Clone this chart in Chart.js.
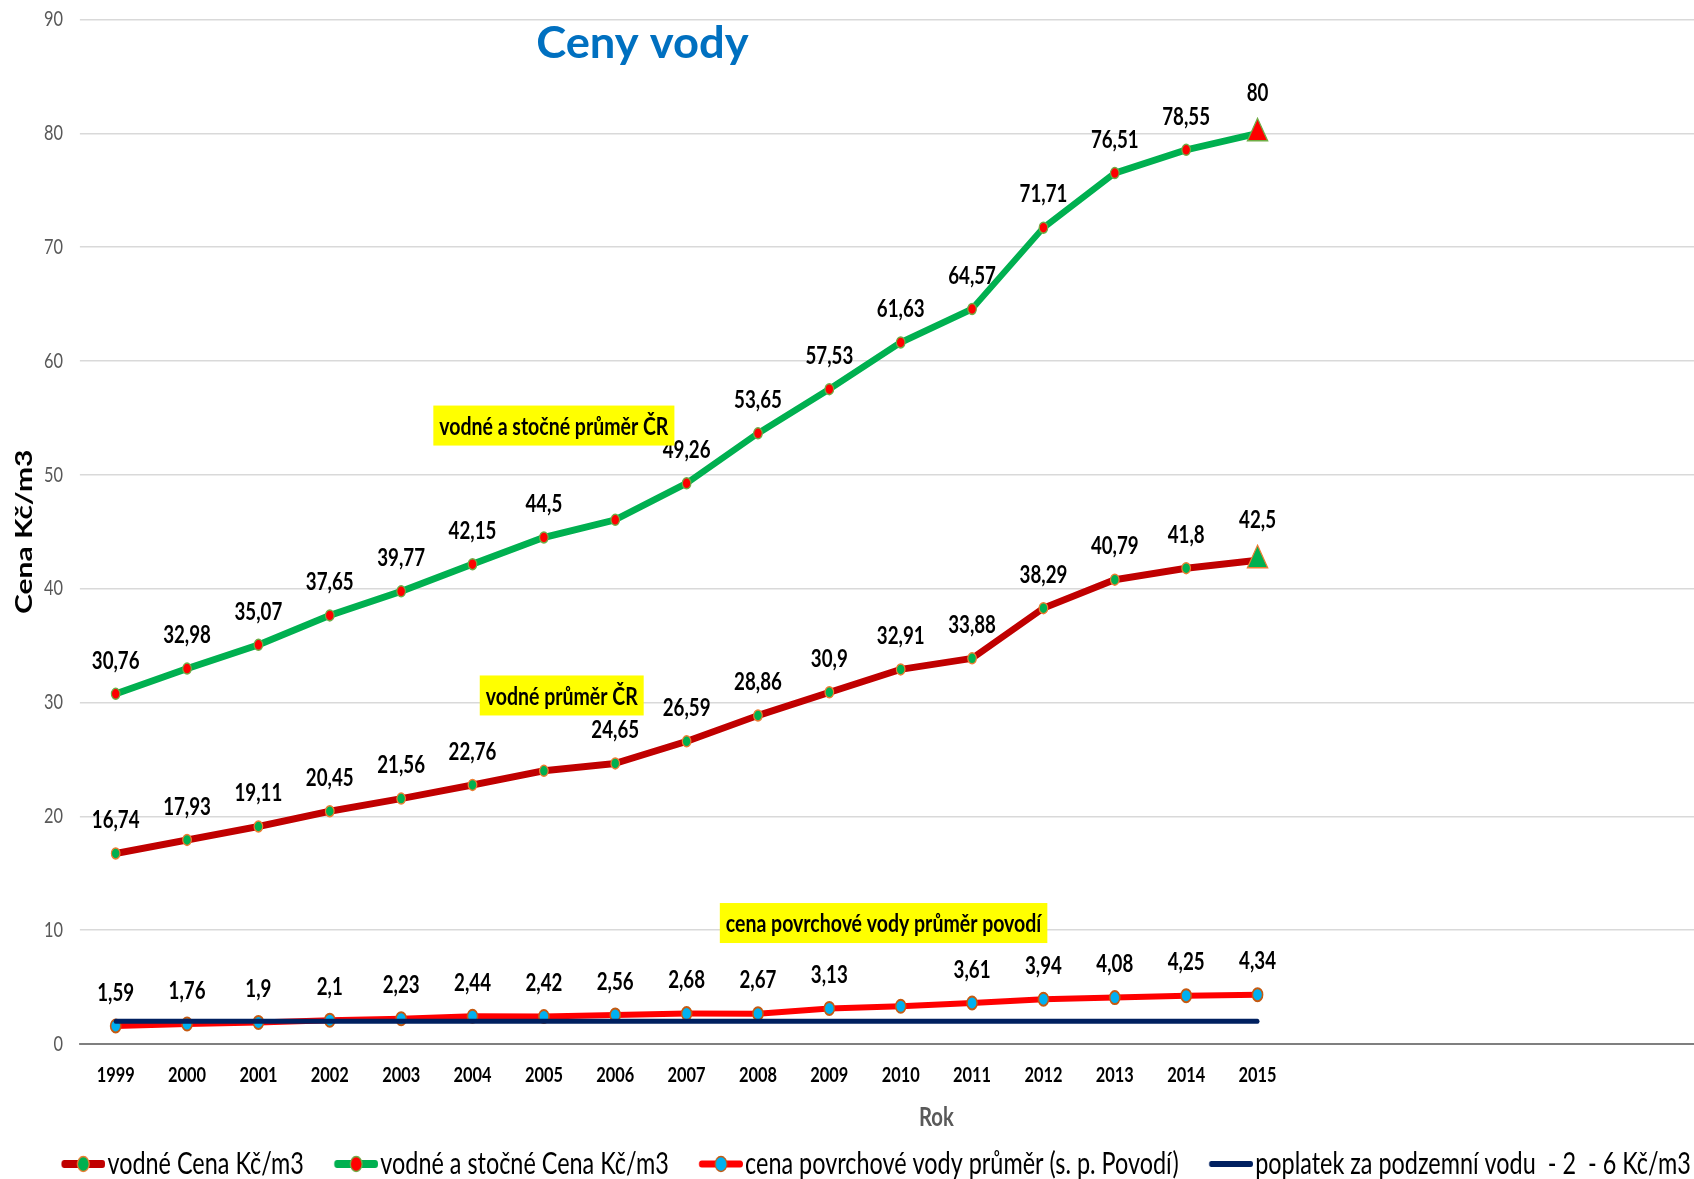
<!DOCTYPE html>
<html>
<head>
<meta charset="utf-8">
<title>Ceny vody</title>
<script src="https://cdn.jsdelivr.net/npm/chart.js@4.4.1/dist/chart.umd.min.js"></script>
<style>
  html, body { margin: 0; padding: 0; background: #fff; overflow: hidden; }
  /* the plot runs on past the right edge, as in the cropped original */
  #wrap { position: absolute; left: -41px; top: 0; }
</style>
</head>
<body>
<div id="wrap"><canvas id="chart"></canvas></div>
<script>
// --- data ---
const years = ['1999', '2000', '2001', '2002', '2003', '2004', '2005', '2006', '2007',
  '2008', '2009', '2010', '2011', '2012', '2013', '2014', '2015'];
const spareSlots = ['', '', '', '', '', '', '']; // empty categories right of 2015

const vodne = [16.74, 17.93, 19.11, 20.45, 21.56, 22.76, 24.0, 24.65, 26.59,
  28.86, 30.9, 32.91, 33.88, 38.29, 40.79, 41.8, 42.5];
const vodneStocne = [30.76, 32.98, 35.07, 37.65, 39.77, 42.15, 44.5, 46.05, 49.26,
  53.65, 57.53, 61.63, 64.57, 71.71, 76.51, 78.55, 80];
const povrchova = [1.59, 1.76, 1.9, 2.1, 2.23, 2.44, 2.42, 2.56, 2.68,
  2.67, 3.13, 3.32, 3.61, 3.94, 4.08, 4.25, 4.34];
const podzemni = [2, 2, 2, 2, 2, 2, 2, 2, 2, 2, 2, 2, 2, 2, 2, 2, 2];

// points whose value is not printed in the original
const vodneNoLabel = [6];
const vodneStocneNoLabel = [7];
const povrchovaNoLabel = [11];

const seriesNames = [
  'vodné Cena Kč/m3',
  'vodné a stočné Cena Kč/m3',
  'cena povrchové vody průměr (s. p. Povodí)',
  'poplatek za podzemní vodu  - 2  - 6 Kč/m3'
];

// yellow call-outs, placed in axis units (category index, value)
const notes = [
  { text: 'vodné a stočné průměr ČR', at: [6.14, 54.33] },
  { text: 'vodné průměr ČR', at: [6.25, 30.62] },
  { text: 'cena povrchové vody průměr povodí', at: [10.76, 10.63] }
];
const heading = { text: 'Ceny vody', at: [7.38, 86.6] };

// --- look ---
const FONT = "Lato, 'Open Sans', sans-serif";
const SQUISH = 0.78;      // the original is a horizontally squeezed Excel chart
const SHIFT = 41;         // canvas sits this far left of the page
const PLOT_LEFT = 80;     // page x of the plot's left edge
const PLOT_RIGHT = 1793;  // page x of the (cut off) right edge
const px = v => v / SQUISH; // page width -> canvas units

const wrap = document.getElementById('wrap');
wrap.style.width = Math.round(px(PLOT_RIGHT + SHIFT)) + 'px';
wrap.style.height = '1189px';

const fmt = v => String(v).replace('.', ',');
const lastIdx = years.length - 1;

// legend swatch: line with marker, kept in the right part of a wider image
const LEGEND_FONT = 30;
const SWATCH = px(44);
const BOX_W = px(46) - LEGEND_FONT / 2 + 0.5;
const IMG_W = Math.round(BOX_W + LEGEND_FONT - px(4));

function makeIcon(line, lw, fill, stroke) {
  const c = document.createElement('canvas');
  c.width = IMG_W;
  c.height = 30;
  const g = c.getContext('2d');
  const x0 = IMG_W - SWATCH;
  g.strokeStyle = line;
  g.lineWidth = lw;
  g.lineCap = 'round';
  g.beginPath();
  g.moveTo(x0 + lw / 2, 15);
  g.lineTo(IMG_W - lw / 2, 15);
  g.stroke();
  if (fill) {
    g.beginPath();
    g.arc(x0 + SWATCH / 2, 15, 7.5, 0, Math.PI * 2);
    g.fillStyle = fill;
    g.fill();
    g.lineWidth = 1.5;
    g.strokeStyle = stroke;
    g.stroke();
  }
  return c;
}

const legendIcons = [
  makeIcon('#C00000', 8, '#00B050', '#ED7D31'),
  makeIcon('#00B050', 8, '#FF0000', '#70AD47'),
  makeIcon('#FF0000', 7, '#00B0F0', '#C55A11'),
  makeIcon('#002060', 6, null, null)
];

// squeeze the whole drawing sideways, then add title and call-outs
const squeeze = {
  id: 'squeeze',
  beforeDraw(chart) {
    chart.ctx.save();
    chart.ctx.setTransform(SQUISH, 0, 0, 1, 0, 0);
  },
  afterDatasetsDraw(chart) {
    const ctx = chart.ctx;
    ctx.save();
    ctx.font = 'bold 24px ' + FONT;
    ctx.fillStyle = '#000';
    ctx.textAlign = 'center';
    ctx.textBaseline = 'middle';
    chart.data.datasets.forEach((ds, di) => {
      if (!ds.valueLabels) return;
      const meta = chart.getDatasetMeta(di);
      meta.data.forEach((pt, i) => {
        if (ds.noLabel.includes(i)) return;
        const lift = (ds.endMarker && i === lastIdx) ? 40 : 33;
        ctx.fillText(fmt(ds.data[i]), pt.x, pt.y - lift);
      });
    });
    ctx.restore();
  },
  afterDraw(chart) {
    const { ctx, scales: { x, y } } = chart;
    ctx.save();
    ctx.font = 'bold 25px ' + FONT;
    ctx.textAlign = 'center';
    ctx.textBaseline = 'middle';
    notes.forEach(n => {
      const cx = x.getPixelForValue(n.at[0]);
      const cy = y.getPixelForValue(n.at[1]);
      const w = ctx.measureText(n.text).width + px(12);
      ctx.fillStyle = '#FFFF00';
      ctx.fillRect(cx - w / 2, cy - 20, w, 40);
      ctx.fillStyle = '#000';
      ctx.fillText(n.text, cx, cy + 1);
    });
    // the heading is not squeezed in the original
    ctx.translate(x.getPixelForValue(heading.at[0]), y.getPixelForValue(heading.at[1]));
    ctx.scale(1.03 / SQUISH, 1);
    ctx.font = 'bold 44px ' + FONT;
    ctx.fillStyle = '#0070C0';
    ctx.textBaseline = 'alphabetic';
    ctx.fillText(heading.text, 0, 0);
    ctx.restore();
    ctx.restore();
  }
};

const isEnd = c => c.dataIndex === lastIdx;

new Chart(document.getElementById('chart'), {
  type: 'line',
  data: {
    labels: years.concat(spareSlots),
    datasets: [
      {
        label: seriesNames[0],
        data: vodne,
        borderColor: '#C00000',
        borderWidth: 7,
        pointStyle: c => isEnd(c) ? 'triangle' : 'circle',
        pointRadius: c => isEnd(c) ? 15 : 5.5,
        pointBackgroundColor: '#00B050',
        pointBorderColor: '#ED7D31',
        pointBorderWidth: 1.5,
        valueLabels: true,
        endMarker: true,
        noLabel: vodneNoLabel,
        order: 1
      },
      {
        label: seriesNames[1],
        data: vodneStocne,
        borderColor: '#00B050',
        borderWidth: 7,
        pointStyle: c => isEnd(c) ? 'triangle' : 'circle',
        pointRadius: c => isEnd(c) ? 15 : 5.5,
        pointBackgroundColor: '#FF0000',
        pointBorderColor: '#70AD47',
        pointBorderWidth: 1.5,
        valueLabels: true,
        endMarker: true,
        noLabel: vodneStocneNoLabel,
        order: 2
      },
      {
        label: seriesNames[2],
        data: povrchova,
        borderColor: '#FF0000',
        borderWidth: 6,
        pointStyle: 'circle',
        pointRadius: 6.5,
        pointBackgroundColor: '#00B0F0',
        pointBorderColor: '#C55A11',
        pointBorderWidth: 2,
        valueLabels: true,
        endMarker: false,
        noLabel: povrchovaNoLabel,
        order: 3
      },
      {
        label: seriesNames[3],
        data: podzemni,
        borderColor: '#002060',
        borderWidth: 5,
        pointRadius: 0,
        valueLabels: false,
        order: 0
      }
    ]
  },
  options: {
    responsive: true,
    maintainAspectRatio: false,
    animation: false,
    events: [],
    layout: { autoPadding: false, padding: { top: 19.5, right: 0, left: 0, bottom: 0 } },
    elements: {
      line: { tension: 0, borderCapStyle: 'round', borderJoinStyle: 'round', fill: false }
    },
    scales: {
      x: {
        offset: true,
        // invisible tick marks push the year labels down
        grid: {
          display: true,
          drawOnChartArea: false,
          color: 'rgba(0,0,0,0)',
          tickLength: 18.4
        },
        border: { display: true, color: '#7f7f7f', width: 2 },
        ticks: {
          autoSkip: false,
          maxRotation: 0,
          padding: 0,
          color: '#000',
          font: { family: FONT, size: 21, weight: 'bold' }
        },
        title: {
          display: true,
          text: 'Rok',
          color: '#595959',
          font: { family: FONT, size: 26, weight: 'bold' },
          padding: { top: 0, bottom: -22.5 }
        },
        afterFit(scale) {
          scale.height = 66.5;
          scale.paddingLeft = 0;
          scale.paddingRight = 0;
        }
      },
      y: {
        min: 0,
        max: 90,
        grid: { color: '#d9d9d9', lineWidth: 1.5, drawTicks: false },
        border: { display: false },
        ticks: {
          stepSize: 10,
          padding: px(17),
          color: '#595959',
          font: { family: FONT, size: 21 }
        },
        title: {
          display: true,
          text: 'Cena Kč/m3',
          color: '#000',
          font: { family: FONT, size: 30, weight: 'bold' },
          padding: { top: px(24 + SHIFT) - 18, bottom: 0 }
        },
        afterFit(scale) {
          scale.width = px(PLOT_LEFT + SHIFT);
          scale.paddingTop = 0;
          scale.paddingBottom = 0;
        }
      }
    },
    plugins: {
      tooltip: { enabled: false },
      legend: {
        position: 'bottom',
        labels: {
          usePointStyle: true,
          pointStyleWidth: BOX_W,
          padding: px(30),
          color: '#000',
          font: { family: FONT, size: LEGEND_FONT },
          generateLabels(chart) {
            const items = Chart.defaults.plugins.legend.labels.generateLabels(chart);
            items.forEach(it => { it.pointStyle = legendIcons[it.datasetIndex]; });
            return items;
          },
          sort: (a, b) => a.datasetIndex - b.datasetIndex
        }
      }
    }
  },
  plugins: [squeeze]
});
</script>
</body>
</html>
